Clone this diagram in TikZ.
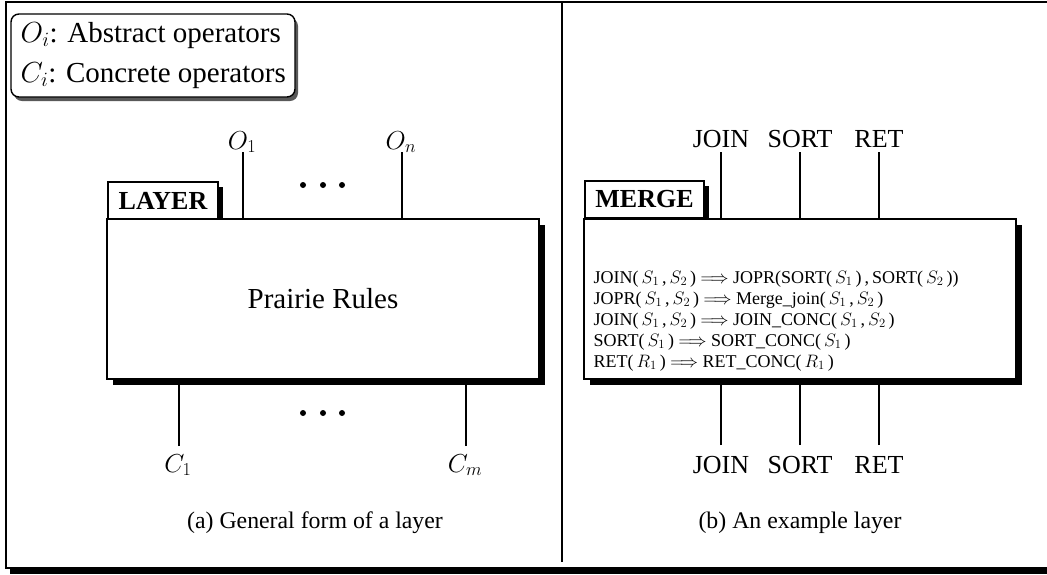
\RequirePackage{fix-cm}
\documentclass[tikz,border=0pt]{standalone}
\usepackage[no-math]{fontspec}
\setmainfont{Liberation Serif}
\usetikzlibrary{shadows}
\begin{document}
\begin{tikzpicture}[x=1pt,y=-1pt, line width=1.4pt,
  box/.style={draw, fill=white, inner sep=0pt, line width=1.4pt},
  bigshadow/.style={drop shadow={shadow xshift=6pt, shadow yshift=-6pt, fill=black, opacity=1}},
  tabshadow/.style={drop shadow={shadow xshift=5pt, shadow yshift=-5pt, fill=black, opacity=1}},
  lab/.style={inner sep=0pt, anchor=base},
  wire/.style={line width=1.4pt},
  bigfont/.style={font=\fontsize{29}{35}\selectfont},
  midfont/.style={font=\fontsize{26}{31}\selectfont},
  tabfont/.style={font=\fontsize{26}{31}\selectfont\bfseries},
  capfont/.style={font=\fontsize{23.8}{28}\selectfont},
  ruleline/.style={inner sep=0pt, anchor=base west, font=\fontsize{18}{21}\selectfont},
]
\useasboundingbox (0,0) rectangle (1047,574);

% outer frame
\draw[line width=2pt] (1050,1.5) -- (5.5,1.5) -- (5.5,568) -- (1050,568);
\fill (10,567.5) rectangle (1050,574);
% divider
\draw[line width=2.2pt] (562,1.5) -- (562,562);

% legend
\node[box, rounded corners=8pt, minimum width=284pt, minimum height=83pt,
      drop shadow={shadow xshift=3pt, shadow yshift=-4pt, fill=black!65, opacity=1}] (legend) at (153,55.5) {};
\node[bigfont, inner sep=0pt, anchor=base west] (leg1) at (20,42) {$O_i$: Abstract operators};
\node[bigfont, inner sep=0pt, anchor=base west] (leg2) at (20,82) {$C_i$: Concrete operators};

% ---------- left panel ----------
\node[box, tabshadow, minimum width=110pt, minimum height=37pt, tabfont] (ltab) at (163,200.5) {LAYER};
\node[box, bigshadow, minimum width=432pt, minimum height=160pt, bigfont] (lbox) at (323,299) {Prairie Rules};

\node[midfont, lab] (o1) at (242,149) {$O_1$};
\node[midfont, lab] (on) at (401,149) {$O_n$};
\coordinate (o1t) at (243,152);
\coordinate (ont) at (402,152);
\draw[wire] (o1t) -- (o1t |- lbox.north);
\draw[wire] (ont) -- (ont |- lbox.north);
\foreach \x in {303,323,342} \fill (\x,185) circle (3pt);

\node[midfont, lab] (c1) at (178,472) {$C_1$};
\node[midfont, lab] (cm) at (465,472) {$C_m$};
\coordinate (c1b) at (179,446);
\coordinate (cmb) at (466,446);
\draw[wire] (c1b) -- (c1b |- lbox.south);
\draw[wire] (cmb) -- (cmb |- lbox.south);
\foreach \x in {303,323,342} \fill (\x,413) circle (3pt);

\node[capfont, lab] (capa) at (315,528) {(a) General form of a layer};

% ---------- right panel ----------
\node[box, tabshadow, minimum width=119pt, minimum height=37pt, tabfont] (mtab) at (644.5,199.5) {MERGE};
\node[box, bigshadow, minimum width=432pt, minimum height=160pt] (mbox) at (800,299) {};

\node[midfont, lab] (tjoin) at (721,147) {JOIN};
\node[midfont, lab] (tsort) at (800,147) {SORT};
\node[midfont, lab] (tret)  at (879,147) {RET};
\coordinate (tj) at (721,152);
\coordinate (ts) at (800,152);
\coordinate (tr) at (879,152);
\draw[wire] (tj) -- (tj |- mbox.north);
\draw[wire] (ts) -- (ts |- mbox.north);
\draw[wire] (tr) -- (tr |- mbox.north);

\node[midfont, lab] (bjoin) at (721,473) {JOIN};
\node[midfont, lab] (bsort) at (800,473) {SORT};
\node[midfont, lab] (bret)  at (879,473) {RET};
\coordinate (bj) at (721,445);
\coordinate (bs) at (800,445);
\coordinate (br) at (879,445);
\draw[wire] (bj) -- (bj |- mbox.south);
\draw[wire] (bs) -- (bs |- mbox.south);
\draw[wire] (br) -- (br |- mbox.south);

\node[ruleline] (r1) at (593,283) {JOIN(\,$S_1$\,,\,$S_2$\,) $\Longrightarrow$ JOPR(SORT(\,$S_1$\,)\,,\,SORT(\,$S_2$\,))};
\node[ruleline] (r2) at (593,304) {JOPR(\,$S_1$\,,\,$S_2$\,) $\Longrightarrow$ Merge\_join(\,$S_1$\,,\,$S_2$\,)};
\node[ruleline] (r3) at (593,325) {JOIN(\,$S_1$\,,\,$S_2$\,) $\Longrightarrow$ JOIN\_CONC(\,$S_1$\,,\,$S_2$\,)};
\node[ruleline] (r4) at (593,346) {SORT(\,$S_1$\,) $\Longrightarrow$ SORT\_CONC(\,$S_1$\,)};
\node[ruleline] (r5) at (593,367) {RET(\,$R_1$\,) $\Longrightarrow$ RET\_CONC(\,$R_1$\,)};

\node[capfont, lab] (capb) at (800,528) {(b) An example layer};
\end{tikzpicture}
\end{document}
